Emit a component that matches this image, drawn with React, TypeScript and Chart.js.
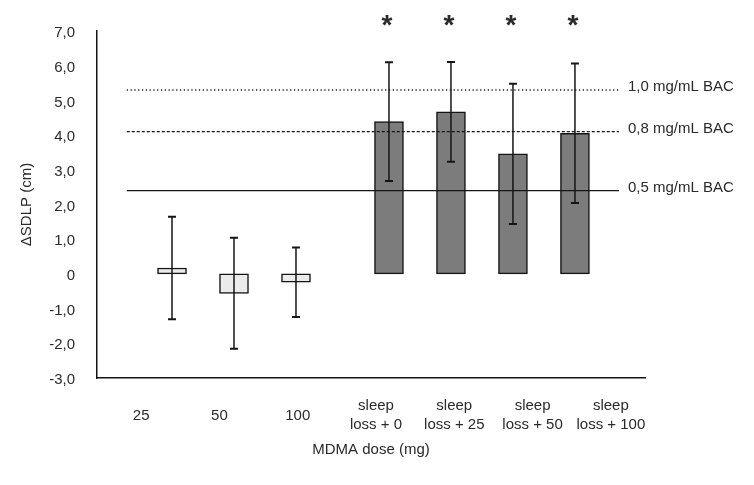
import React, { useEffect, useRef } from 'react';
import { Chart, registerables } from 'chart.js';

Chart.register(...registerables);

// ---- data ----
const categories: (string | string[])[] = [
  '25',
  '50',
  '100',
  ['sleep', 'loss + 0'],
  ['sleep', 'loss + 25'],
  ['sleep', 'loss + 50'],
  ['sleep', 'loss + 100'],
];
const groups = ['mdma', 'mdma', 'mdma', 'sleep', 'sleep', 'sleep', 'sleep'];
const meanSdlp = [0.17, -0.56, -0.24, 4.39, 4.67, 3.46, 4.05];
const errorSdlp = [1.48, 1.6, 1.0, 1.71, 1.44, 2.02, 2.01];
const significant = [false, false, false, true, true, true, true];
const bacLabels = ['0,5 mg/mL BAC', '0,8 mg/mL BAC', '1,0 mg/mL BAC'];
const bacSdlp = [2.4, 4.1, 5.3];

// ---- styling / layout ----
const FONT = "'Liberation Sans', Arial, sans-serif";
const TEXT = '#2a2a2a';
const LINE = '#151515';
const GROUP_GAP = 0.5;
const bacDash: number[][] = [[], [3, 2], [1.2, 2.6]];
const groupFill: Record<string, string> = { mdma: '#ebebeb', sleep: '#7c7c7c' };
const REF_FROM = -0.73;
const REF_TO = 7.21;
const ASTERISK_LEVEL = 7.3;

const barPos = (i: number) => i + (groups[i] === 'sleep' ? GROUP_GAP : 0);

const annotatePlugin = {
  id: 'annotate',
  afterDatasetsDraw(chart: any) {
    const { ctx, scales } = chart;
    const xs = scales.x;
    const ys = scales.y;
    const meta = chart.getDatasetMeta(0);
    ctx.save();
    // reference BAC lines
    const x0 = xs.getPixelForValue(REF_FROM);
    const x1 = xs.getPixelForValue(REF_TO);
    bacSdlp.forEach((v, i) => {
      const py = ys.getPixelForValue(v);
      ctx.beginPath();
      ctx.setLineDash(bacDash[i]);
      ctx.lineWidth = 1.3;
      ctx.strokeStyle = LINE;
      ctx.moveTo(x0, py);
      ctx.lineTo(x1, py);
      ctx.stroke();
      ctx.setLineDash([]);
      ctx.fillStyle = TEXT;
      ctx.font = `15px ${FONT}`;
      ctx.textAlign = 'left';
      ctx.textBaseline = 'middle';
      ctx.fillText(bacLabels[i], x1 + 9, py - 3);
    });
    // error bars + asterisks
    meta.data.forEach((bar: any, i: number) => {
      const cx = bar.x;
      const top = ys.getPixelForValue(meanSdlp[i] + errorSdlp[i]);
      const bot = ys.getPixelForValue(meanSdlp[i] - errorSdlp[i]);
      ctx.strokeStyle = LINE;
      ctx.lineWidth = 1.5;
      ctx.beginPath();
      ctx.moveTo(cx, top);
      ctx.lineTo(cx, bot);
      ctx.stroke();
      ctx.lineWidth = 2;
      ctx.beginPath();
      ctx.moveTo(cx - 4, top);
      ctx.lineTo(cx + 4, top);
      ctx.moveTo(cx - 4, bot);
      ctx.lineTo(cx + 4, bot);
      ctx.stroke();
      if (significant[i]) {
        ctx.font = `bold 28px ${FONT}`;
        ctx.fillStyle = TEXT;
        ctx.textAlign = 'center';
        ctx.textBaseline = 'alphabetic';
        const m = ctx.measureText('*');
        const target = ys.getPixelForValue(ASTERISK_LEVEL);
        const base = target - (m.actualBoundingBoxDescent - m.actualBoundingBoxAscent) / 2;
        ctx.fillText('*', cx - 2, base);
      }
    });
    ctx.restore();
  },
};

export default function App() {
  const canvasRef = useRef<HTMLCanvasElement | null>(null);

  useEffect(() => {
    if (!canvasRef.current) return;
    const chart = new Chart(canvasRef.current, {
      type: 'bar',
      data: {
        labels: categories as any,
        datasets: [
          {
            data: meanSdlp.map((y, i) => ({ x: barPos(i), y })) as any,
            backgroundColor: groups.map((g) => groupFill[g]),
            borderColor: LINE,
            borderWidth: 1.5,
            borderSkipped: false,
            barThickness: 29,
            xAxisID: 'x',
            yAxisID: 'y',
          },
        ],
      },
      options: {
        animation: false,
        responsive: true,
        maintainAspectRatio: false,
        layout: { padding: { top: 30, right: 109, bottom: 0, left: 0 } },
        plugins: {
          legend: { display: false },
          tooltip: { enabled: false },
        },
        scales: {
          x: {
            type: 'linear',
            display: false,
            offset: false,
            min: -1.21,
            max: 7.63,
          },
          xl: {
            type: 'category',
            position: 'bottom',
            offset: true,
            grid: { display: false, drawTicks: false },
            border: { display: true, color: LINE, width: 1.5 },
            ticks: {
              color: TEXT,
              font: { family: FONT, size: 15, lineHeight: 1.25 },
              padding: 28,
              labelOffset: 5,
              crossAlign: 'center',
              maxRotation: 0,
              autoSkip: false,
            },
            title: {
              display: true,
              text: 'MDMA dose (mg)',
              color: TEXT,
              font: { family: FONT, size: 15, lineHeight: 1.2 },
              padding: { top: 0, bottom: 26 },
            },
            afterFit: (scale: any) => {
              scale.height = 107;
            },
          },
          y: {
            type: 'linear',
            min: -3,
            max: 7,
            grid: { display: false, drawTicks: false },
            border: { display: true, color: LINE, width: 1.5 },
            ticks: {
              stepSize: 1,
              color: TEXT,
              padding: 22,
              labelOffset: 2,
              font: { family: FONT, size: 15 },
              callback: (v: any) => (Number(v) === 0 ? '0' : Number(v).toFixed(1).replace('.', ',')),
            },
            title: {
              display: true,
              text: 'ΔSDLP (cm)',
              color: TEXT,
              font: { family: FONT, size: 15, lineHeight: 1.2 },
              padding: { top: 18, bottom: 0 },
            },
            afterFit: (scale: any) => {
              scale.width = 97;
            },
          },
        },
      } as any,
      plugins: [annotatePlugin],
    });
    return () => chart.destroy();
  }, []);

  return (
    <div style={{ position: 'absolute', left: 0, top: 0, width: 754, height: 485, background: '#fff' }}>
      <canvas ref={canvasRef} />
    </div>
  );
}
